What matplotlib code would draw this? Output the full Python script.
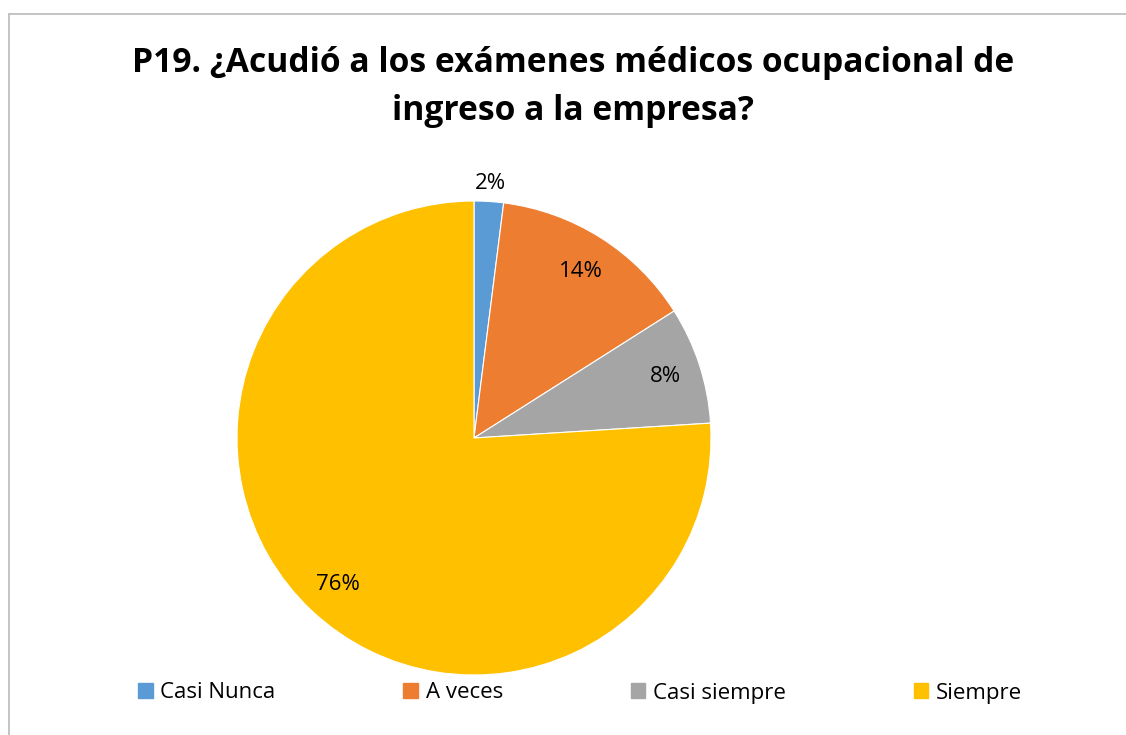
import numpy as np
import matplotlib
matplotlib.use("Agg")
import matplotlib.pyplot as plt
from matplotlib.lines import Line2D

categories = ["Casi Nunca", "A veces", "Casi siempre", "Siempre"]
values = [2, 14, 8, 76]
labels = ["2%", "14%", "8%", "76%"]
colors = ["#5B9BD5", "#ED7D31", "#A5A5A5", "#FFC000"]
label_dist = [1.08, 0.84, 0.85, 0.84]
title_lines = ["P19. ¿Acudió a los exámenes médicos ocupacional de",
               "ingreso a la empresa?"]

W, H = 1126, 735
fig = plt.figure(figsize=(W / 100, H / 100), dpi=100)
plt.rcParams['font.family'] = ['Open Sans', 'DejaVu Sans']

# chart border (left and top visible)
bc = "#BFBFBF"
fig.add_artist(Line2D([8.5 / W, 8.5 / W], [0, 1 - 13.5 / H], transform=fig.transFigure, color=bc, lw=1.3))
fig.add_artist(Line2D([8.5 / W, 1], [1 - 13.5 / H, 1 - 13.5 / H], transform=fig.transFigure, color=bc, lw=1.3))

cx, cy, r = 474, 438, 237
ax = fig.add_axes([(cx - r) / W, (H - cy - r) / H, 2 * r / W, 2 * r / H])
wedges, _ = ax.pie(values, colors=colors, startangle=90, counterclock=False,
                   radius=1, wedgeprops=dict(edgecolor="white", linewidth=0.8))
ax.set_xlim(-1, 1)
ax.set_ylim(-1, 1)
ax.set_aspect("equal")
ax.axis("off")

for w, lab, d in zip(wedges, labels, label_dist):
    th = np.deg2rad((w.theta1 + w.theta2) / 2)
    ax.text(d * np.cos(th), d * np.sin(th) - 0.005, lab, ha="center", va="center",
            fontsize=16, color="#000000")

for i, line in enumerate(title_lines):
    fig.text(573 / W, 1 - (72 + 48 * i) / H, line, ha="center", va="baseline",
             fontsize=24.2, fontweight="bold")

handles = [plt.Rectangle((0, 0), 1, 1, color=c) for c in colors]
fig.legend(handles, categories, loc="center", bbox_to_anchor=(580 / W, 1 - 693 / H),
           ncol=4, frameon=False, fontsize=16, handlelength=0.65, handleheight=0.65,
           handletextpad=0.35, columnspacing=5.75)

fig.savefig("out.png", dpi=100)
